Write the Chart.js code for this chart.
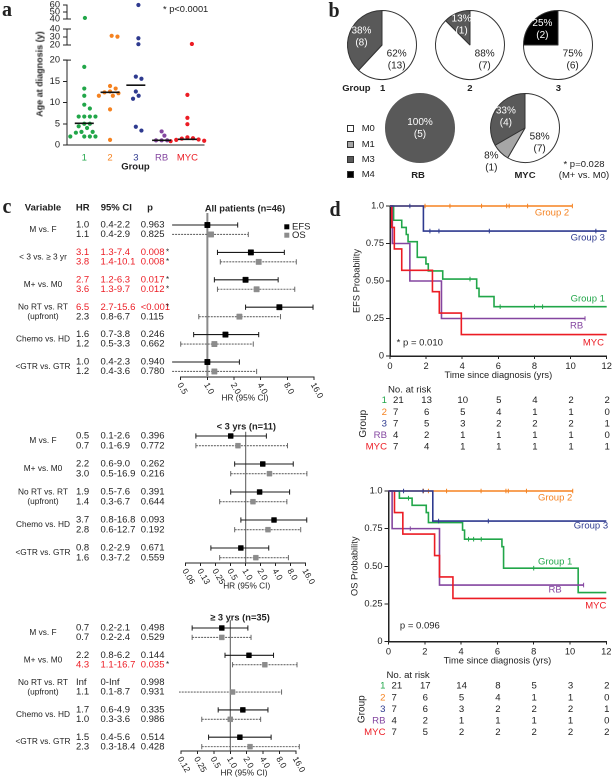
<!DOCTYPE html>
<html><head><meta charset="utf-8"><title>Figure</title>
<script src="https://cdn.jsdelivr.net/npm/chart.js"></script>
<style>
html,body{margin:0;padding:0;background:#fff;}
#root{position:relative;width:612px;height:780px;overflow:hidden;font-family:'Liberation Sans',Arial,Helvetica,sans-serif;color:#222;}
#root canvas{position:absolute;}
.t{position:absolute;white-space:nowrap;line-height:1;}
.sw{position:absolute;width:5px;height:5px;border:1px solid #333;}
</style></head><body><div id="root"></div>
<script>
/* ================= DATA ================= */
// ---- panel a: age at diagnosis ----
const ageGroups = ['1', '2', '3', 'RB', 'MYC'];
const ageGroup1 = [41.5, 18.4, 13.3, 11.6, 9.5, 8.6, 6.7, 6.7, 6.7, 6.7, 5.0, 5.0, 4.4, 4.0, 3.1, 3.1, 2.9, 2.0, 2.0, 2.0, 2.0];
const ageGroup2 = [31.5, 30.5, 13.9, 13.3, 12.6, 12.4, 12.2, 11.6, 11.6, 8.4, 1.2];
const ageGroup3 = [60, 28.4, 21, 16.1, 15.6, 12.6, 11.6, 10.9, 4.3, 3.4];
const ageRB = [3.2, 2.2, 1.1, 1.1, 1.1];
const ageMYC = [21.3, 11.8, 6.4, 4.9, 1.8, 1.6, 1.5, 1.3, 1.2, 1.0, 0.9, 0.8];
const ageMedian = [5.1, 12.4, 14.1, 1.1, 1.35];
const ageTicksLow = [0, 5, 10, 15, 20];
const ageTicksMid = [20, 30, 40];
const ageTicksHigh = [40, 50, 60];

// ---- panel b: metastatic stage ----
const pieCategories = ['M0', 'M1', 'M3', 'M4'];
const pieGroup1 = [13, 0, 8, 0];
const pieGroup2 = [7, 0, 1, 0];
const pieGroup3 = [6, 0, 0, 2];
const pieRB = [0, 0, 5, 0];
const pieMYC = [7, 1, 4, 0];

// ---- panel c: hazard ratios ----
const varsAll = ['M vs. F', '< 3 vs. \u2265 3 yr', 'M+ vs. M0', 'No RT vs. RT\n(upfront)', 'Chemo vs. HD', '<GTR vs. GTR'];
const allEfsHR = [1.0, 3.1, 2.7, 6.5, 1.6, 1.0];
const allEfsLo = [0.4, 1.3, 1.2, 2.7, 0.7, 0.4];
const allEfsHi = [2.2, 7.4, 6.3, 15.6, 3.8, 2.3];
const allEfsP = ['0.963', '0.008', '0.017', '<0.001', '0.246', '0.940'];
const allOsHR = [1.1, 3.8, 3.6, 2.3, 1.2, 1.2];
const allOsLo = [0.4, 1.4, 1.3, 0.8, 0.5, 0.4];
const allOsHi = [2.9, 10.1, 9.7, 6.7, 3.3, 3.6];
const allOsP = ['0.825', '0.008', '0.012', '0.115', '0.662', '0.780'];

const varsSub = ['M vs. F', 'M+ vs. M0', 'No RT vs. RT\n(upfront)', 'Chemo vs. HD', '<GTR vs. GTR'];
const youngEfsHR = [0.5, 2.2, 1.9, 3.7, 0.8];
const youngEfsLo = [0.1, 0.6, 0.5, 0.8, 0.2];
const youngEfsHi = [2.6, 9.0, 7.6, 16.8, 2.9];
const youngEfsP = ['0.396', '0.262', '0.391', '0.093', '0.671'];
const youngOsHR = [0.7, 3.0, 1.4, 2.8, 1.6];
const youngOsLo = [0.1, 0.5, 0.3, 0.6, 0.3];
const youngOsHi = [6.9, 16.9, 6.7, 12.7, 7.2];
const youngOsP = ['0.772', '0.216', '0.644', '0.192', '0.559'];

const oldEfsHR = [0.7, 2.2, Infinity, 1.7, 1.5];
const oldEfsLo = [0.2, 0.8, 0, 0.6, 0.4];
const oldEfsHi = [2.1, 6.2, Infinity, 4.9, 5.6];
const oldEfsP = ['0.498', '0.144', '0.998', '0.335', '0.514'];
const oldOsHR = [0.7, 4.3, 1.1, 1.0, 2.3];
const oldOsLo = [0.2, 1.1, 0.1, 0.3, 0.3];
const oldOsHi = [2.4, 16.7, 8.7, 3.6, 18.4];
const oldOsP = ['0.529', '0.035', '0.931', '0.986', '0.428'];

const hrTicksAll = [0.5, 1, 2, 4, 8, 16];
const hrLabelsAll = ['0.5', '1.0', '2.0', '4.0', '8.0', '16.0'];
const hrTicksYoung = [0.0625, 0.125, 0.25, 0.5, 1, 2, 4, 8, 16];
const hrLabelsYoung = ['0.06', '0.13', '0.25', '0.5', '1.0', '2.0', '4.0', '8.0', '16.0'];
const hrTicksOld = [0.125, 0.25, 0.5, 1, 2, 4, 8, 16];
const hrLabelsOld = ['0.12', '0.25', '0.5', '1.0', '2.0', '4.0', '8.0', '16.0'];

// ---- panel d: Kaplan-Meier ----
const efsTimeG1 = [0, 0.2, 0.65, 0.9, 1.0, 1.51, 1.99, 2.12, 2.92, 4.8, 4.93, 5.76, 12];
const efsSurvG1 = [1, 0.905, 0.857, 0.81, 0.762, 0.658, 0.614, 0.567, 0.513, 0.451, 0.396, 0.329, 0.329];
const efsCensG1 = [4.43, 6.1, 8.0, 8.45];
const efsTimeG2 = [0, 10.1];
const efsSurvG2 = [1, 1];
const efsCensG2 = [1.94, 3.32, 5.07, 6.46, 6.6, 7.62, 10.1];
const efsTimeG3 = [0, 1.85, 12];
const efsSurvG3 = [1, 0.833, 0.833];
const efsCensG3 = [1.1, 2.21, 2.71, 5.5, 11.4];
const efsTimeRB = [0, 0.13, 1.1, 2.85, 10.8];
const efsSurvRB = [1, 0.75, 0.5, 0.25, 0.25];
const efsCensRB = [10.8];
const efsTimeMYC = [0, 0.1, 0.24, 0.65, 2.35, 2.73, 3.95, 12];
const efsSurvMYC = [1, 0.857, 0.714, 0.571, 0.429, 0.286, 0.143, 0.143];
const efsCensMYC = [];

const osTimeG1 = [0, 0.6, 1.3, 2.08, 2.2, 4.08, 4.19, 6.25, 6.34, 10.45, 12];
const osSurvG1 = [1, 0.952, 0.905, 0.857, 0.79, 0.74, 0.68, 0.63, 0.487, 0.325, 0.325];
const osCensG1 = [1.1, 4.41, 4.69, 5.11, 8.0];
const osTimeG2 = [0, 10.15];
const osSurvG2 = [1, 1];
const osCensG2 = [1.93, 2.2, 3.2, 5.1, 6.47, 6.6, 7.6, 10.15];
const osTimeG3 = [0, 2.44, 12];
const osSurvG3 = [1, 0.8, 0.8];
const osCensG3 = [0.83, 1.9, 2.76, 5.5];
const osTimeRB = [0, 0.2, 2.81, 10.75];
const osSurvRB = [1, 0.75, 0.375, 0.375];
const osCensRB = [1.2, 10.75];
const osTimeMYC = [0, 0.33, 0.79, 2.54, 2.81, 3.55, 12];
const osSurvMYC = [1, 0.857, 0.714, 0.571, 0.429, 0.286, 0.286];
const osCensMYC = [];

const riskTimes = [0, 2, 4, 6, 8, 10, 12];
const efsRiskG1 = [21, 13, 10, 5, 4, 2, 2];
const efsRiskG2 = [7, 6, 5, 4, 1, 1, 0];
const efsRiskG3 = [7, 5, 3, 2, 2, 2, 1];
const efsRiskRB = [4, 2, 1, 1, 1, 1, 0];
const efsRiskMYC = [7, 4, 1, 1, 1, 1, 1];
const osRiskG1 = [21, 17, 14, 8, 5, 3, 2];
const osRiskG2 = [7, 6, 5, 4, 1, 1, 0];
const osRiskG3 = [7, 6, 3, 2, 2, 2, 1];
const osRiskRB = [4, 2, 1, 1, 1, 1, 0];
const osRiskMYC = [7, 5, 2, 2, 2, 2, 2];

const kmXTicks = [0, 2, 4, 6, 8, 10, 12];
const kmYTicks = [0, 0.25, 0.5, 0.75, 1];
const kmYLabels = ['0', '0.25', '0.50', '0.75', '1.0'];

/* ================= STYLE / HELPERS ================= */
const FONT = "'Liberation Sans', Arial, Helvetica, sans-serif";
const SERIF = "'Liberation Serif', 'Times New Roman', serif";
const groupColors = ['#21a649', '#f58220', '#2e3a8f', '#8446a0', '#ec1c24'];
const RED = '#ec1c24';
const INK = '#222';
Chart.defaults.font.family = FONT;
Chart.defaults.color = INK;
Chart.defaults.animation = false;
Chart.defaults.responsive = false;
Chart.defaults.plugins.legend.display = false;
Chart.defaults.plugins.tooltip.enabled = false;

const root = document.getElementById('root');
function mk(x, y, w, h) {
  const c = document.createElement('canvas');
  c.width = w; c.height = h;
  c.style.cssText = `left:${x}px;top:${y}px;width:${w}px;height:${h}px`;
  root.appendChild(c);
  return c;
}
function T(x, y, s, o = {}) {
  const d = document.createElement('div');
  d.className = 't';
  d.textContent = s;
  d.style.left = x + 'px'; d.style.top = y + 'px';
  d.style.fontSize = (o.size || 9.5) + 'px';
  if (o.bold) d.style.fontWeight = 'bold';
  if (o.color) d.style.color = o.color;
  if (o.family) d.style.fontFamily = o.family;
  const ax = o.align === 'l' ? '0' : o.align === 'r' ? '-100%' : '-50%';
  d.style.transform = `translate(${ax},-50%)` + (o.rot ? ` rotate(${o.rot}deg)` : '');
  root.appendChild(d);
}
function ct(ctx, s, x, y, o = {}) {
  ctx.save();
  ctx.font = `${o.bold ? 'bold ' : ''}${o.size || 9.5}px ${FONT}`;
  ctx.fillStyle = o.color || INK;
  ctx.textAlign = o.align || 'left';
  ctx.textBaseline = 'middle';
  ctx.fillText(s, x, y);
  ctx.restore();
}
function fixW(w) { return s => { if (!s.options.display) return; s.width = w; s.paddingLeft = s.paddingRight = s.paddingTop = s.paddingBottom = 0; }; }
function fixH(h) { return s => { if (!s.options.display) return; s.height = h; s.paddingLeft = s.paddingRight = s.paddingTop = s.paddingBottom = 0; }; }
function setTicks(vals) { return s => { s.ticks = vals.map(v => ({ value: v })); }; }

/* ================= PANEL A ================= */
const ageData = [ageGroup1, ageGroup2, ageGroup3, ageRB, ageMYC];
const segs = [
  { min: 0, max: 20, ticks: ageTicksLow, top: 49, h: 127, padTop: 7, padBottom: 0, showX: true, breaks: ['max'] },
  { min: 20, max: 40, ticks: ageTicksMid, top: 22, h: 30, padTop: 7, padBottom: 7, showX: false, breaks: ['min', 'max'] },
  { min: 40, max: 60, ticks: ageTicksHigh, top: 0, h: 26, padTop: 5, padBottom: 7, showX: false, breaks: ['min'] }
];
const X_AXIS_H = 31;
segs.forEach(s => { s.k = (s.h - s.padTop - s.padBottom - (s.showX ? X_AXIS_H : 0)) / (s.max - s.min); });
const catMin = -0.67, catMax = 4.64;
const pxPerCat = (215 - 6 - 67) / (catMax - catMin);
function swarm(vals) {
  const placed = [];
  return vals.map(v => {
    const si = segs.findIndex(s => v >= s.min && v <= s.max);
    const py = (v - segs[si].min) * segs[si].k;
    let ox = 0;
    for (let n = 0; n < 40; n++) {
      const cand = n === 0 ? 0 : (n % 2 ? 1 : -1) * Math.ceil(n / 2) * 2.9;
      if (placed.every(p => p.seg !== si || Math.hypot(p.py - py, p.ox - cand) >= 5.2)) { ox = cand; break; }
    }
    placed.push({ seg: si, py, ox });
    return { seg: si, v, dx: ox / pxPerCat };
  });
}
const swarmed = ageData.map(swarm);
segs.forEach((s, si) => {
  const c = mk(0, s.top, 215, s.h);
  const datasets = [{
    type: 'scatter',
    data: ageMedian.map((m, gi) => ({ x: gi, y: m })).filter(p => p.y >= s.min && p.y <= s.max),
    pointStyle: 'line', pointRadius: 9.5, borderColor: '#111', pointBorderColor: '#111', pointBorderWidth: 1.6, clip: false
  }];
  ageData.forEach((vals, gi) => datasets.push({
    type: 'scatter',
    data: swarmed[gi].filter(p => p.seg === si).map(p => ({ x: gi + p.dx, y: p.v })),
    pointRadius: 2.1, backgroundColor: groupColors[gi], pointBackgroundColor: groupColors[gi], pointBorderWidth: 0, clip: false
  }));
  new Chart(c, {
    type: 'scatter',
    data: { datasets },
    options: {
      devicePixelRatio: 2,
      layout: { padding: { left: 0, right: 6, top: s.padTop, bottom: s.padBottom } },
      scales: {
        x: {
          type: 'linear', min: catMin, max: catMax, display: s.showX,
          afterBuildTicks: setTicks(ageGroups.map((g, i) => i)), afterFit: fixH(X_AXIS_H),
          ticks: { autoSkip: false, maxRotation: 0, padding: 7, font: { size: 9.5 }, color: ctx => groupColors[ctx.index], callback: v => ageGroups[v] },
          grid: { display: false, drawTicks: false },
          border: { display: true, color: INK, width: 1 },
          title: { display: true, text: 'Group', font: { size: 9.5, weight: 'bold' }, color: INK, padding: { top: 0, bottom: 3.6 } }
        },
        y: {
          type: 'linear', min: s.min, max: s.max,
          afterBuildTicks: setTicks(s.ticks), afterFit: fixW(67),
          ticks: { autoSkip: false, padding: 3, font: { size: 9.3 }, color: INK },
          grid: { drawOnChartArea: false, tickLength: 4, color: INK },
          border: { color: INK, width: 1 }
        }
      }
    },
    plugins: [{
      id: 'breaks',
      afterDraw(chart) {
        const ctx = chart.ctx, ys = chart.scales.y, x = chart.chartArea.left;
        ctx.save(); ctx.strokeStyle = INK; ctx.lineWidth = 1;
        s.breaks.forEach(e => {
          const y = ys.getPixelForValue(s[e]);
          ctx.beginPath(); ctx.moveTo(x - 4, y); ctx.lineTo(x + 4, y); ctx.stroke();
        });
        ctx.restore();
      }
    }]
  });
});

/* ================= PANEL B ================= */
const pieColors = ['#ffffff', '#a6a6a6', '#595959', '#000000'];
const pieDark = [false, false, true, true];
const pieLabelPlugin = {
  id: 'pieLbl',
  afterDatasetsDraw(chart) {
    const meta = chart.getDatasetMeta(0);
    const data = chart.data.datasets[0].data;
    const total = data.reduce((a, b) => a + b, 0);
    const ctx = chart.ctx;
    meta.data.forEach((arc, i) => {
      const n = data[i];
      if (!n) return;
      const f = n / total;
      const p = arc.getProps(['x', 'y', 'startAngle', 'endAngle', 'outerRadius'], true);
      let ang = (p.startAngle + p.endAngle) / 2, d = 0.64 * p.outerRadius;
      let color = pieDark[i] ? '#fff' : INK;
      if (f >= 0.999) d = 0;
      else if (f > 0.5) { ang = Math.PI / 4; d = 0.6 * p.outerRadius; }
      else if (f < 0.1) { d = 1.38 * p.outerRadius; color = INK; }
      const lx = p.x + Math.cos(ang) * d, ly = p.y + Math.sin(ang) * d;
      ct(ctx, Math.round(f * 100) + '%', lx, ly - 6, { size: 10, align: 'center', color });
      ct(ctx, '(' + n + ')', lx, ly + 6, { size: 10, align: 'center', color });
    });
  }
};
[[382, 45, pieGroup1], [470, 45, pieGroup2], [558, 45, pieGroup3], [420, 128, pieRB], [525, 128, pieMYC]].forEach(([cx, cy, counts]) => {
  const c = mk(cx - 50, cy - 50, 100, 100);
  const total = counts.reduce((a, b) => a + b, 0);
  new Chart(c, {
    type: 'pie',
    data: { labels: pieCategories, datasets: [{
      data: counts, backgroundColor: pieColors,
      borderColor: counts.map((n, i) => n === total ? pieColors[i] : '#333'),
      borderWidth: counts.map(n => n > 0 ? 1 : 0)
    }] },
    options: { devicePixelRatio: 2, layout: { padding: 15 } },
    plugins: [pieLabelPlugin]
  });
});

/* ================= PANEL C ================= */
const OFF = 0.345;
const fmt = v => v === Infinity ? 'Inf' : v === 0 ? '0' : v.toFixed(1);
const pnum = s => parseFloat(String(s).replace('<', ''));
function forest(o) {
  const c = mk(0, o.top, 330, o.h);
  const ds = [{ type: 'line', data: [{ x: 1, y: o.refTop }, { x: 1, y: o.yMax }], borderColor: o.refColor, borderWidth: o.refWidth, pointRadius: 0, order: 5, clip: false }];
  o.vars.forEach((v, g) => {
    [[o.efs, 0, '#1a1a1a', []], [o.os, OFF, '#6a6a6a', [2, 1]]].forEach(([s, off, col, dash]) => {
      if (!isFinite(s.hr[g])) return;
      ds.push({
        type: 'line', data: [{ x: s.lo[g], y: g + off }, { x: s.hi[g], y: g + off }],
        borderColor: col, borderWidth: 1.1, borderDash: dash,
        pointStyle: 'line', pointRotation: 90, pointRadius: 2.6, pointBorderColor: col, pointBackgroundColor: col, pointBorderWidth: 1,
        order: 3, clip: o.clip
      });
    });
  });
  ds.push({ type: 'scatter', data: o.efs.hr.map((h, g) => ({ x: h, y: g })).filter(p => isFinite(p.x)),
    pointStyle: 'rect', pointRadius: o.sq, backgroundColor: '#000', pointBackgroundColor: '#000', pointBorderColor: '#000', pointBorderWidth: 0.5, order: 1, clip: false });
  ds.push({ type: 'scatter', data: o.os.hr.map((h, g) => ({ x: h, y: g + OFF })).filter(p => isFinite(p.x)),
    pointStyle: 'rect', pointRadius: o.sq, backgroundColor: '#8c8c8c', pointBackgroundColor: '#8c8c8c', pointBorderColor: '#8c8c8c', pointBorderWidth: 0.5, order: 2, clip: false });
  new Chart(c, {
    type: 'scatter',
    data: { datasets: ds },
    options: {
      devicePixelRatio: 2,
      layout: { padding: o.pad },
      scales: {
        x: {
          type: 'logarithmic', min: o.ticks[0], max: o.ticks[o.ticks.length - 1],
          afterBuildTicks: setTicks(o.ticks), afterFit: fixH(o.axisH),
          ticks: { display: false, autoSkip: false },
          grid: { display: true, drawOnChartArea: false, drawTicks: true, tickLength: 3, color: INK },
          border: { display: true, color: INK, width: 1 }
        },
        y: { type: 'linear', min: o.yMin, max: o.yMax, reverse: true, display: false }
      }
    },
    plugins: [{
      id: 'forestText',
      afterDraw(chart) {
        const ctx = chart.ctx, xs = chart.scales.x, ys = chart.scales.y, ca = chart.chartArea;
        const py = v => ys.getPixelForValue(v);
        o.ticks.forEach((v, i) => {
          const px = xs.getPixelForValue(v);
          ctx.save();
          ctx.translate(px - 1.5, ca.bottom + 6.5);
          ctx.rotate(Math.PI / 3);
          ctx.font = `8.5px ${FONT}`; ctx.fillStyle = INK; ctx.textAlign = 'left'; ctx.textBaseline = 'middle';
          ctx.fillText(o.tickLabels[i], 0, 0);
          ctx.restore();
        });
        ct(ctx, 'HR (95% CI)', o.hrX, ca.bottom + o.hrDy, { size: 8.3, align: 'center' });
        ct(ctx, o.title, o.titleX, py(0) + o.titleDy, { size: 9.3, bold: true, align: 'center' });
        if (o.header) {
          const hy = py(0) - 17;
          ct(ctx, 'Variable', 43, hy, { size: 9.5, bold: true, align: 'center' });
          ct(ctx, 'HR', 82.7, hy, { size: 9.5, bold: true, align: 'center' });
          ct(ctx, '95% CI', 116.3, hy, { size: 9.5, bold: true, align: 'center' });
          ct(ctx, 'p', 150, hy, { size: 9.5, bold: true, align: 'center' });
        }
        if (o.legend) {
          ctx.save();
          ctx.fillStyle = '#000'; ctx.fillRect(284.3, py(0) - 0.7, 5, 5);
          ctx.fillStyle = '#8c8c8c'; ctx.fillRect(284.3, py(0) + 7.7, 5, 5);
          ctx.restore();
          ct(ctx, 'EFS', 292, py(0) + 1.8, { size: 9.5 });
          ct(ctx, 'OS', 292, py(0) + 10.2, { size: 9.5 });
        }
        o.vars.forEach((v, g) => {
          const yE = py(g), yO = py(g + OFF);
          const lines = v.split('\n');
          if (lines.length === 1) ct(ctx, v, 43, (yE + yO) / 2, { size: 8.3, align: 'center' });
          else { ct(ctx, lines[0], 43, yE, { size: 8.3, align: 'center' }); ct(ctx, lines[1], 43, yO, { size: 8.3, align: 'center' }); }
          [[o.efs, yE], [o.os, yO]].forEach(([s, y]) => {
            const sig = pnum(s.p[g]) < 0.05;
            const color = sig ? RED : INK;
            ct(ctx, fmt(s.hr[g]), 76, y, { size: 9.5, color });
            ct(ctx, fmt(s.lo[g]) + '-' + fmt(s.hi[g]), 100.5, y, { size: 9.5, color });
            ct(ctx, s.p[g], 140.7, y, { size: 9.5, color });
            if (sig) ct(ctx, '*', 166, y, { size: 8, color: INK });
          });
        });
      }
    }]
  });
}
forest({
  top: 196, h: 212, pad: { left: 180.7, right: 16, top: 12.56, bottom: 4.9 }, axisH: 26.1,
  yMin: -0.6, yMax: 5.547, refTop: -0.44, refColor: '#8a8a8a', refWidth: 2, sq: 3.8, clip: false,
  ticks: hrTicksAll, tickLabels: hrLabelsAll, vars: varsAll,
  efs: { hr: allEfsHR, lo: allEfsLo, hi: allEfsHi, p: allEfsP },
  os: { hr: allOsHR, lo: allOsLo, hi: allOsHi, p: allOsP },
  title: 'All patients (n=46)', titleX: 245, titleDy: -16, hrX: 245, hrDy: 21, header: true, legend: true
});
forest({
  top: 415, h: 180, pad: { left: 185.7, right: 24.3, top: 7, bottom: 4 }, axisH: 28,
  yMin: -0.5, yMax: 4.536, refTop: -0.15, refColor: '#555', refWidth: 1, sq: 3.5, clip: false,
  ticks: hrTicksYoung, tickLabels: hrLabelsYoung, vars: varsSub,
  efs: { hr: youngEfsHR, lo: youngEfsLo, hi: youngEfsHi, p: youngEfsP },
  os: { hr: youngOsHR, lo: youngOsLo, hi: youngOsHi, p: youngOsP },
  title: '< 3 yrs (n=11)', titleX: 246.3, titleDy: -9, hrX: 246.7, hrDy: 23, header: false, legend: false
});
forest({
  top: 605, h: 175, pad: { left: 181, right: 34, top: 9.35, bottom: 2 }, axisH: 27,
  yMin: -0.5, yMax: 4.505, refTop: -0.29, refColor: '#555', refWidth: 1, sq: 3.5, clip: { left: 2, top: false, right: false, bottom: false },
  ticks: hrTicksOld, tickLabels: hrLabelsOld, vars: varsSub,
  efs: { hr: oldEfsHR, lo: oldEfsLo, hi: oldEfsHi, p: oldEfsP },
  os: { hr: oldOsHR, lo: oldOsLo, hi: oldOsHi, p: oldOsP },
  title: '\u2265 3 yrs (n=35)', titleX: 240, titleDy: -10, hrX: 244, hrDy: 22, header: false, legend: false
});

/* ================= PANEL D ================= */
function survAt(time, surv, t) {
  let v = surv[0];
  time.forEach((tt, i) => { if (tt <= t) v = surv[i]; });
  return v;
}
function km(o) {
  const c = mk(300, o.top, 312, 262);
  const ds = [];
  o.series.forEach(s => {
    ds.push({ type: 'line', data: s.time.map((t, i) => ({ x: t, y: s.surv[i] })), stepped: 'before',
      borderColor: s.color, borderWidth: 1.6, pointRadius: 0, order: s.order, clip: 4 });
    ds.push({ type: 'scatter', data: s.cens.map(t => ({ x: t, y: survAt(s.time, s.surv, t) })),
      pointStyle: 'line', pointRotation: 90, pointRadius: 2.3, borderColor: s.color, pointBorderColor: s.color, pointBorderWidth: 1, order: s.order, clip: 4 });
  });
  new Chart(c, {
    type: 'scatter',
    data: { datasets: ds },
    options: {
      devicePixelRatio: 2,
      layout: { padding: o.pad },
      scales: {
        x: {
          type: 'linear', min: 0, max: 12, afterBuildTicks: setTicks(kmXTicks), afterFit: fixH(30),
          ticks: { padding: 2, font: { size: 9.3 }, color: INK, maxRotation: 0, autoSkip: false, callback: v => String(v) },
          grid: { drawOnChartArea: false, tickLength: 3, color: INK },
          border: { color: INK, width: 1.5 },
          title: { display: true, text: 'Time since diagnosis (yrs)', font: { size: 9.3 }, color: INK, padding: { top: 0, bottom: 4.9 } }
        },
        y: {
          type: 'linear', min: 0, max: 1, afterBuildTicks: setTicks(kmYTicks), afterFit: fixW(o.yW),
          ticks: { autoSkip: false, padding: 2, font: { size: 9.3 }, color: INK, callback: (v, i) => kmYLabels[i] },
          grid: { drawOnChartArea: false, tickLength: 4, color: INK },
          border: { color: INK, width: 1.5 },
          title: { display: true, text: o.yTitle, font: { size: 9.3 }, color: INK, padding: { top: o.yTitlePad, bottom: 0 } }
        }
      }
    },
    plugins: [{
      id: 'kmText',
      afterDraw(chart) {
        const ctx = chart.ctx, xs = chart.scales.x, ys = chart.scales.y, ca = chart.chartArea;
        o.labels.forEach(l => ct(ctx, l.t, xs.getPixelForValue(l.x), ys.getPixelForValue(l.y), { size: 9.5, align: l.a, color: l.c }));
        const x0 = xs.getPixelForValue(0);
        ct(ctx, 'No. at risk', x0 - 2, ca.bottom + 34, { size: 9.6 });
        o.risk.forEach((r, i) => {
          const y = ca.bottom + 44.5 + i * 11.6;
          ct(ctx, ageGroups[i], x0 - 3, y, { size: 9.6, align: 'right', color: groupColors[i] });
          r.forEach((n, j) => {
            if (j === 0) ct(ctx, String(n), x0 + 3, y, { size: 9.6 });
            else ct(ctx, String(n), xs.getPixelForValue(riskTimes[j]) + 0.5, y, { size: 9.6, align: 'center' });
          });
        });
        ctx.save();
        ctx.translate(x0 - 27, ca.bottom + 44.5 + 2 * 11.6);
        ctx.rotate(-Math.PI / 2);
        ct(ctx, 'Group', 0, 0, { size: 10, align: 'center' });
        ctx.restore();
      }
    }]
  });
}
km({
  top: 196, pad: { left: 0, top: 10, right: 5.3, bottom: 72 }, yW: 90, yTitle: 'EFS Probability', yTitlePad: 51.4,
  series: [
    { time: efsTimeG3, surv: efsSurvG3, cens: efsCensG3, color: groupColors[2], order: 1 },
    { time: efsTimeMYC, surv: efsSurvMYC, cens: efsCensMYC, color: groupColors[4], order: 2 },
    { time: efsTimeRB, surv: efsSurvRB, cens: efsCensRB, color: groupColors[3], order: 3 },
    { time: efsTimeG1, surv: efsSurvG1, cens: efsCensG1, color: groupColors[0], order: 4 },
    { time: efsTimeG2, surv: efsSurvG2, cens: efsCensG2, color: groupColors[1], order: 5 }
  ],
  labels: [
    { t: 'Group 2', x: 8.97, y: 0.953, a: 'center', c: groupColors[1] },
    { t: 'Group 3', x: 11.9, y: 0.787, a: 'right', c: groupColors[2] },
    { t: 'Group 1', x: 11.9, y: 0.38, a: 'right', c: groupColors[0] },
    { t: 'RB', x: 10.7, y: 0.2, a: 'right', c: groupColors[3] },
    { t: 'MYC', x: 11.85, y: 0.087, a: 'right', c: groupColors[4] },
    { t: '* p = 0.010', x: 0.37, y: 0.089, a: 'left', c: INK }
  ],
  risk: [efsRiskG1, efsRiskG2, efsRiskG3, efsRiskRB, efsRiskMYC]
});
km({
  top: 481, pad: { left: 0, top: 10, right: 5.7, bottom: 71.5 }, yW: 88.5, yTitle: 'OS Probability', yTitlePad: 49.4,
  series: [
    { time: osTimeG3, surv: osSurvG3, cens: osCensG3, color: groupColors[2], order: 1 },
    { time: osTimeMYC, surv: osSurvMYC, cens: osCensMYC, color: groupColors[4], order: 2 },
    { time: osTimeRB, surv: osSurvRB, cens: osCensRB, color: groupColors[3], order: 3 },
    { time: osTimeG1, surv: osSurvG1, cens: osCensG1, color: groupColors[0], order: 4 },
    { time: osTimeG2, surv: osSurvG2, cens: osCensG2, color: groupColors[1], order: 5 }
  ],
  labels: [
    { t: 'Group 2', x: 9.18, y: 0.955, a: 'center', c: groupColors[1] },
    { t: 'Group 3', x: 12.1, y: 0.767, a: 'right', c: groupColors[2] },
    { t: 'Group 1', x: 9.18, y: 0.53, a: 'center', c: groupColors[0] },
    { t: 'RB', x: 9.18, y: 0.342, a: 'center', c: groupColors[3] },
    { t: 'MYC', x: 12.0, y: 0.236, a: 'right', c: groupColors[4] },
    { t: 'p = 0.096', x: 0.63, y: 0.103, a: 'left', c: INK }
  ],
  risk: [osRiskG1, osRiskG2, osRiskG3, osRiskRB, osRiskMYC]
});

/* ================= STATIC TEXT ================= */
T(7, 9, 'a', { size: 20, bold: true, family: SERIF });
T(334, 10, 'b', { size: 20, bold: true, family: SERIF });
T(7, 206, 'c', { size: 20, bold: true, family: SERIF });
T(335, 209, 'd', { size: 20, bold: true, family: SERIF });
T(163, 10, '* p<0.0001', { size: 9.3, align: 'l' });
T(40, 74, 'Age at diagnosis (y)', { size: 9, bold: true, rot: -90 });
T(356.4, 88.3, 'Group', { size: 9.5, bold: true });
T(382.7, 88.3, '1', { size: 9.5, bold: true });
T(470, 88.3, '2', { size: 9.5, bold: true });
T(558.3, 88.3, '3', { size: 9.5, bold: true });
T(418, 175, 'RB', { size: 9.5, bold: true });
T(525, 175, 'MYC', { size: 9.5, bold: true });
T(584, 164, '* p=0.028', { size: 9.5 });
T(584, 175, '(M+ vs. M0)', { size: 9.5 });
[128.3, 144, 159.3, 174].forEach((y, i) => {
  const b = document.createElement('div');
  b.className = 'sw';
  b.style.left = '346.7px'; b.style.top = (y - 3.5) + 'px'; b.style.background = pieColors[i];
  root.appendChild(b);
  T(361.7, y, pieCategories[i], { size: 9.5, align: 'l' });
});
</script></body></html>
